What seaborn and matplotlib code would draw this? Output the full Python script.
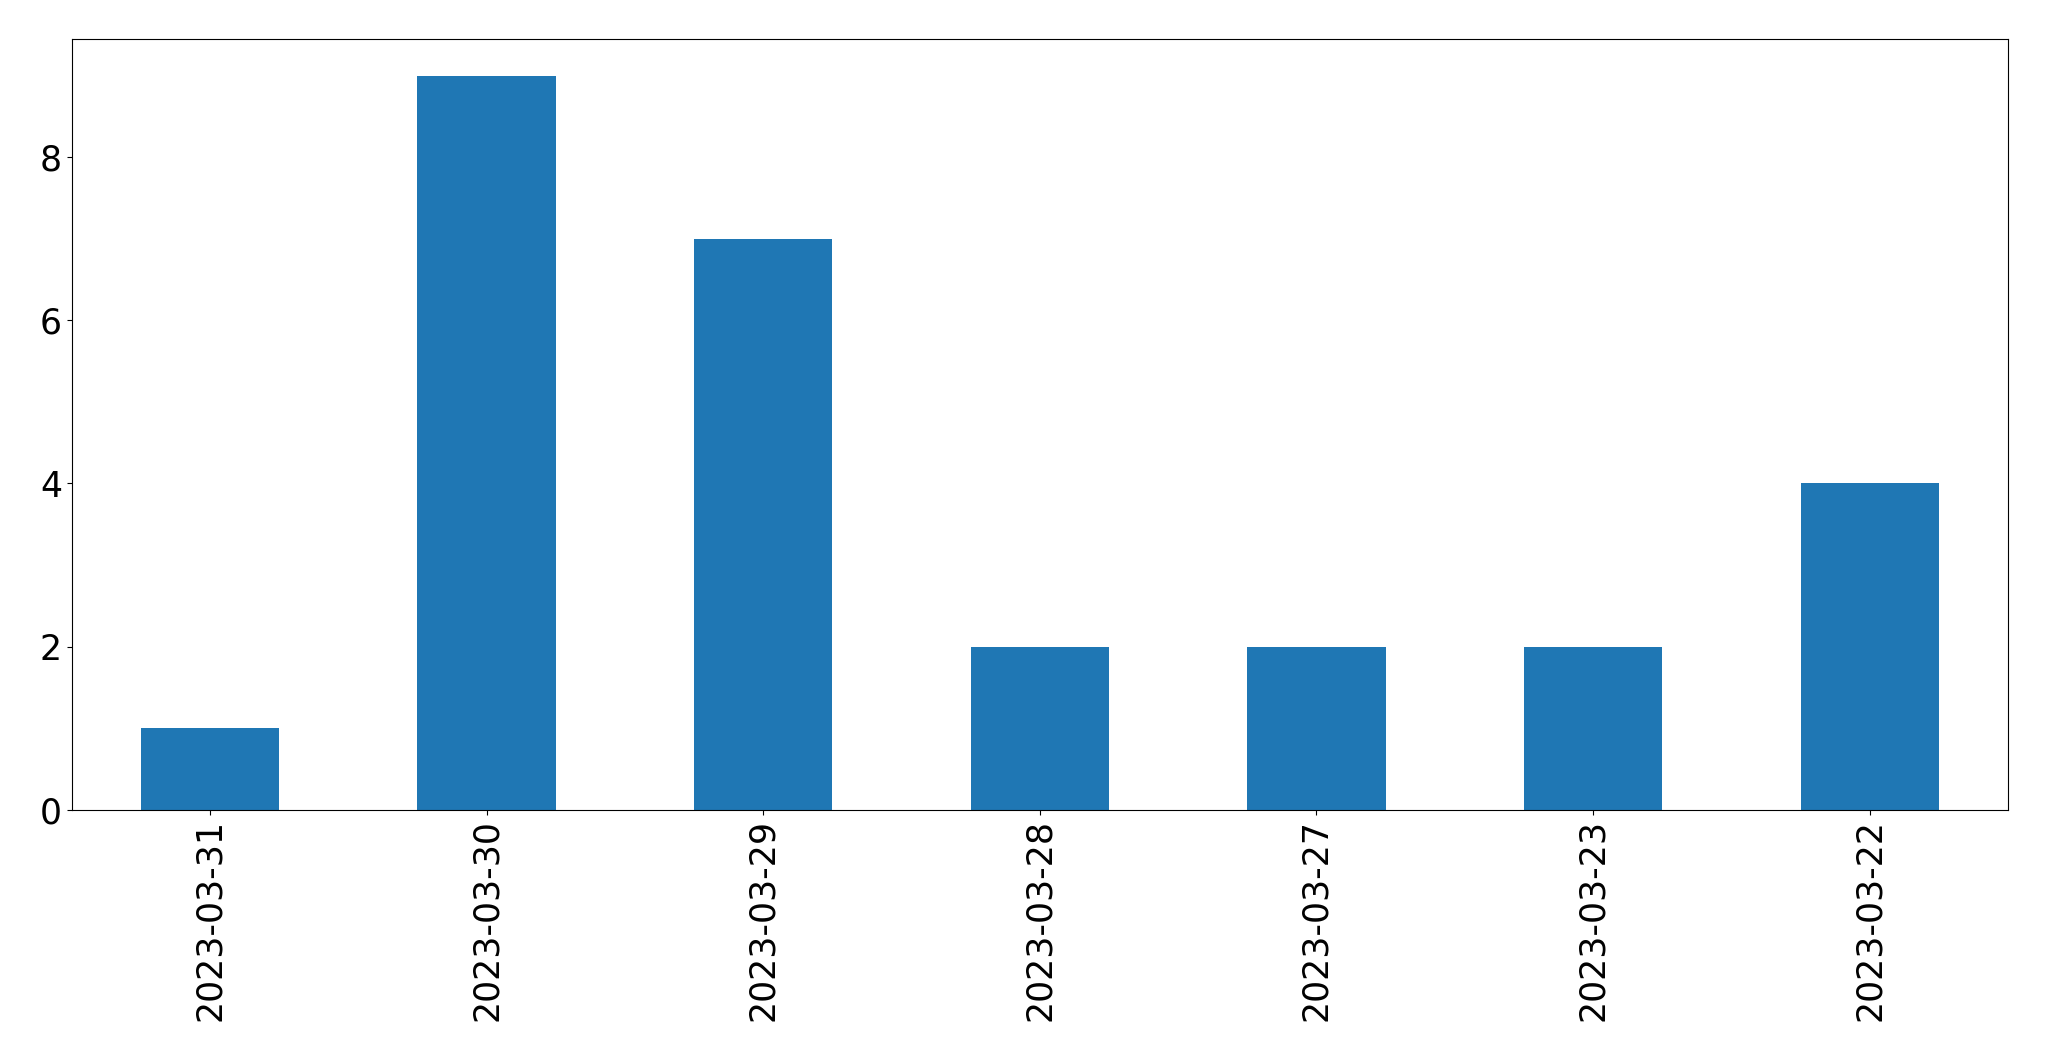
import pandas as pd
import matplotlib
matplotlib.use("Agg")
import matplotlib.pyplot as plt
import seaborn as sns

# Daily counts, most recent date first
dates = ["2023-03-31", "2023-03-30", "2023-03-29", "2023-03-28",
         "2023-03-27", "2023-03-23", "2023-03-22"]
counts = [1, 9, 7, 2, 2, 2, 4]

df = pd.DataFrame({"date": dates, "count": counts})

fig, ax = plt.subplots(figsize=(20.49, 10.61), dpi=100)
sns.barplot(data=df, x="date", y="count", order=dates, color="#1f77b4",
            saturation=1, width=0.5, linewidth=0, ax=ax)

ax.set_xlim(-0.5, len(dates) - 0.5)
ax.set_ylim(0, max(counts) * 1.05)
ax.set_xlabel("")
ax.set_ylabel("")
ax.tick_params(axis="both", labelsize=25)
ax.tick_params(axis="x", labelrotation=90)

fig.subplots_adjust(left=0.035, right=0.980, top=0.963, bottom=0.237)
fig.savefig("out.png", dpi=100)
